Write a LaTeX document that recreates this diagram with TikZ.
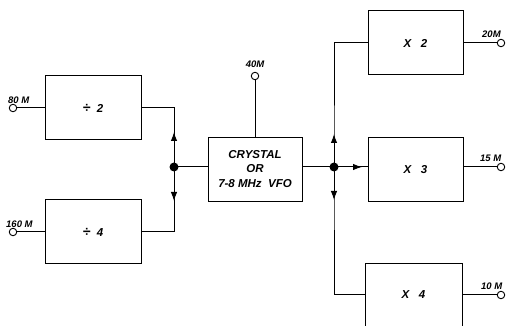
\documentclass[tikz,border=0pt]{standalone}
\usepackage{fontspec}
\setmainfont{Liberation Sans}
\usetikzlibrary{arrows.meta}
\begin{document}
\begin{tikzpicture}[x=1pt,y=-1pt,
  blk/.style={draw,line width=1pt,minimum width=96pt,minimum height=64pt,inner sep=0pt,font=\bfseries\itshape\fontsize{11.5}{14}\selectfont},
  term/.style={draw,circle,line width=0.9pt,minimum size=7.5pt,inner sep=0pt,fill=white},
  lbl/.style={font=\bfseries\itshape\fontsize{9.5}{10}\selectfont,inner sep=0pt},
  wire/.style={line width=1pt},
  arr/.style={-{Latex[length=9pt,width=6.5pt]},line width=1pt},
  dot/.style={circle,fill=black,minimum size=9pt,inner sep=0pt}]
\useasboundingbox (0,0) rectangle (507,326);
\begin{scope}
\clip (0,0) rectangle (507,326);
% boxes
\node[blk] (d2) at (93,108) {{\fontsize{14}{14}\selectfont ÷}\ \ 2};
\node[blk] (d4) at (93,232) {{\fontsize{14}{14}\selectfont ÷}\ \ 4};
\node[blk,minimum width=94pt] (cry) at (255,170) {\begin{tabular}{@{}c@{}}CRYSTAL\\[0.5pt] OR\\[0.5pt] 7-8 MHz\ \ VFO\end{tabular}};
\node[blk,minimum width=95pt] (x2) at (415.5,43) {X\ \ \ 2};
\node[blk,minimum width=95pt] (x3) at (415.5,170) {X\ \ \ 3};
\draw[line width=1pt] (365,330) |- (462,264) -- (462,330);
\coordinate (x4w) at (365,295);
\coordinate (x4e) at (462,295);
\node[font=\bfseries\itshape\fontsize{11.5}{12}\selectfont] (x4) at (413.5,295) {X\ \ \ 4};
\end{scope}
% junctions
\node[dot] (jl) at (174,167) {};
\node[dot] (jr) at (334,167) {};
% terminals
\node[term] (t80) at (13,108) {};
\node[term] (t160) at (13,232) {};
\node[term] (t40) at (255,76) {};
\node[term] (t20) at (501,43) {};
\node[term] (t15) at (501,167) {};
\node[term] (t10) at (501,295) {};
% labels
\node[lbl,anchor=west] (l80) at (8,100) {80 M};
\node[lbl,anchor=west] (l160) at (6,224) {160 M};
\node[lbl] (l40) at (255,64) {40M};
\node[lbl,anchor=west] (l20) at (482,34) {20M};
\node[lbl,anchor=west] (l15) at (480,158) {15 M};
\node[lbl,anchor=west] (l10) at (481,286) {10 M};
% left side wiring
\draw[wire] (t80) -- (d2.west);
\draw[wire] (t160) -- (d4.west);
\draw[wire] (d2.east) -| (jl.center) |- (d4.east);
\draw[arr] (jl.center) -- (174,132);
\draw[arr] (jl.center) -- (174,201);
\draw[wire] (jl.center) -- (cry.west |- jl);
\draw[wire] (t40) -- (cry.north);
% right side wiring
\draw[wire] (cry.east |- jr) -- (jr.center);
\draw[wire] (x2.west) -| (jr.center) |- (x4w);
\draw[arr] (jr.center) -- (334,134);
\draw[arr] (jr.center) -- (334,200);
\draw[wire] (jr.center) -- (x3.west |- jr);
\draw[arr] (jr.center) -- (362,167);
\draw[wire] (x2.east) -- (t20);
\draw[wire] (x3.east |- t15) -- (t15);
\draw[wire] (x4e) -- (t10);
\end{tikzpicture}
\end{document}
